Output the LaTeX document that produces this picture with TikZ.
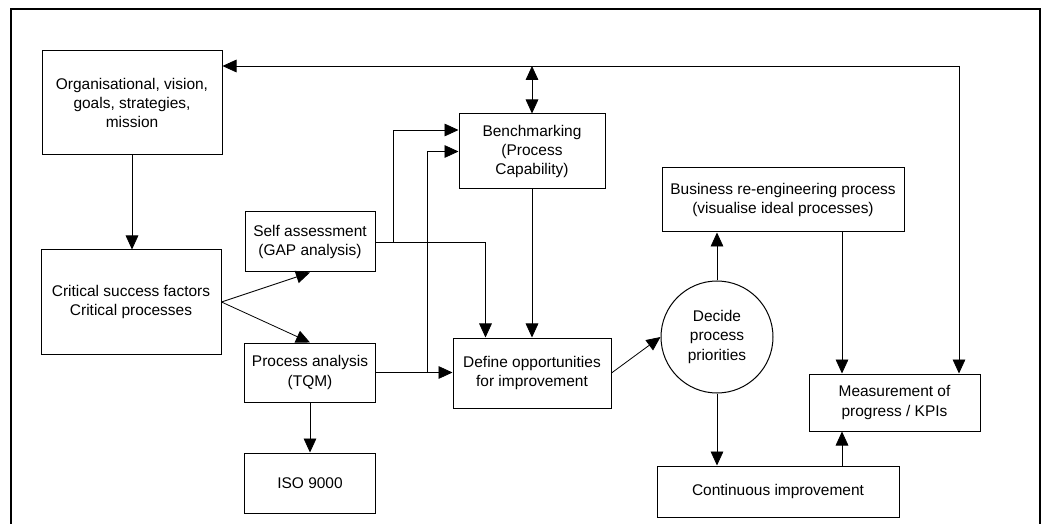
\documentclass[tikz,border=0pt]{standalone}
\usepackage{fontspec}
\setmainfont{Liberation Sans}
\usetikzlibrary{arrows.meta,calc}
\begin{document}
\begin{tikzpicture}[x=0.75pt,y=-0.75pt,
  txt/.style={font=\fontsize{11.6}{14.3}\selectfont, align=center},
  bx/.style n args={2}{draw, line width=0.75pt, txt, inner sep=0pt,
    minimum width={#1*0.75pt}, minimum height={#2*0.75pt}},
  tip/.tip={Triangle[length=10.5pt,width=9.5pt]},
  arr/.style={-tip, line width=0.6pt},
  arrb/.style={tip-tip, line width=0.6pt},
  frame/.style={line width=1.5pt}]
\useasboundingbox (0,0) rectangle (1047,524);
\draw[frame] (11,524) -- (11,9) -- (1040,9) -- (1040,524);

\node[bx={180}{104}] (org) at (132,103) {Organisational, vision,\\goals, strategies,\\mission};
\node[bx={180}{104}] (csf) at (131,302) {Critical success factors\\Critical processes};
\node[bx={130}{60}] (self) at (310,242) {Self assessment\\(GAP analysis)};
\node[bx={131}{59}] (proc) at (310,372.5) {Process analysis\\(TQM)};
\node[bx={131}{60}] (iso) at (310,483) {ISO 9000};
\node[bx={158}{70}] (def) at (532,373) {Define opportunities\\for improvement};
\node[bx={146}{75}] (bench) at (532,151.5) {Benchmarking\\(Process\\Capability)};
\node[bx={242}{64}] (bpr) at (783,200) {Business re-engineering process\\(visualise ideal processes)};
\node[circle, draw, line width=0.75pt, txt, inner sep=0pt, minimum size=84pt] (dec) at (717,337) {Decide\\process\\priorities};
\node[bx={171}{57}] (meas) at (894.5,402.5) {Measurement of\\progress / KPIs};
\node[bx={242}{51}] (ci) at (778,491.5) {Continuous improvement};

\coordinate (tr) at (959,66);
\draw[arr] (tr) -- (org.east |- tr);
\draw[arr] (tr) -- (meas.north -| tr);
\draw[arrb] (bench.north |- tr) -- (bench.north);

\draw[arr] (org.south) -- (org.south |- csf.north);
\draw[arr] (csf.east) -- (self.south);
\draw[arr] (csf.east) -- (proc.north);
\draw[arr] (proc.south) -- (iso.north);

\draw[arr] (self.east) -| ($(def.north west)+(33,0)$);
\draw[arr] ($(self.east)+(18,0)$) |- ($(bench.west)+(0,-21.5)$);
\draw[arr] (proc.east) -- (def.west |- proc.east);
\draw[arr] ($(proc.east)+(51,0)$) |- (bench.west);
\draw[arr] (bench.south) -- (def.north);

\draw[arr] (def.east) -- (dec.west);
\draw[arr] (dec.north) -- (dec.north |- bpr.south);
\draw[arr] (dec.south) -- (dec.south |- ci.north);
\coordinate (b1) at ($(bpr.south)+(59,0)$);
\draw[arr] (b1) -- (b1 |- meas.north);
\draw[arr] (b1 |- ci.north) -- (b1 |- meas.south);
\end{tikzpicture}
\end{document}
